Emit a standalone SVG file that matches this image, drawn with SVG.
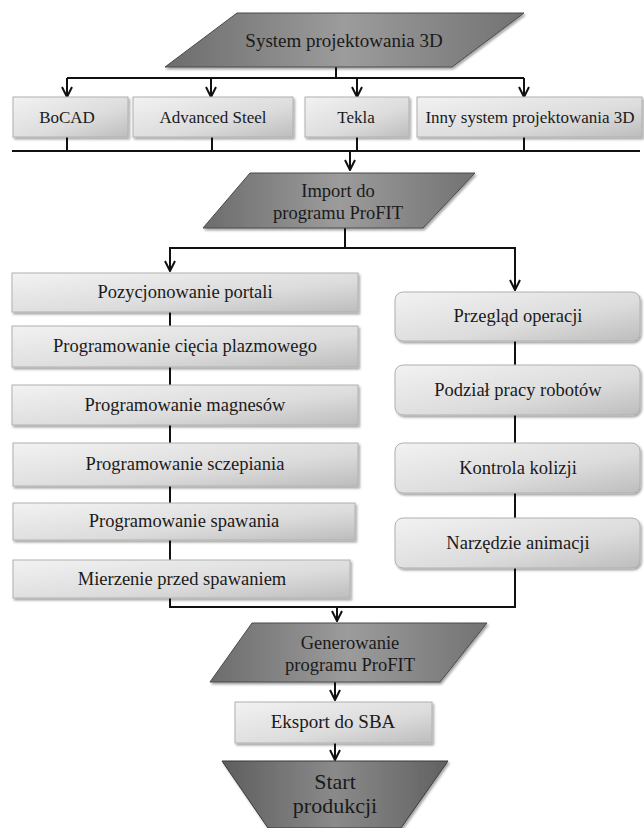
<svg xmlns="http://www.w3.org/2000/svg" width="644" height="828" viewBox="0 0 644 828">
<defs>
<linearGradient id="gBox" x1="0" y1="0" x2="1" y2="1">
<stop offset="0" stop-color="#f2f2f2"/>
<stop offset="0.6" stop-color="#dcdcdc"/>
<stop offset="1" stop-color="#bdbdbd"/>
</linearGradient>
<linearGradient id="gPar" x1="0" y1="0" x2="1" y2="0">
<stop offset="0" stop-color="#6c6c6c"/>
<stop offset="0.5" stop-color="#9c9c9c"/>
<stop offset="1" stop-color="#727272"/>
</linearGradient>
<linearGradient id="gDark" x1="0" y1="0" x2="1" y2="0">
<stop offset="0" stop-color="#5e5e5e"/>
<stop offset="0.5" stop-color="#8a8a8a"/>
<stop offset="1" stop-color="#616161"/>
</linearGradient>
<filter id="sh" x="-5%" y="-10%" width="115%" height="140%">
<feDropShadow dx="1.5" dy="2" stdDeviation="1.2" flood-color="#000" flood-opacity="0.35"/>
</filter>
<marker id="arr" viewBox="0 0 12 12" refX="11" refY="6" markerWidth="12" markerHeight="12" markerUnits="userSpaceOnUse" orient="auto">
<path d="M1,1 L11,6 L1,11" fill="none" stroke="#111" stroke-width="2"/>
</marker>
</defs>
<style>
.box{fill:url(#gBox);stroke:#b0b0b0;stroke-width:1;filter:url(#sh)}
.par{fill:url(#gPar);stroke:#4a4a4a;stroke-width:1;filter:url(#sh)}
.dark{fill:url(#gDark);stroke:#3a3a3a;stroke-width:1;filter:url(#sh)}
.t{font-family:"Liberation Serif","Times New Roman",serif;fill:#1a1a1a;text-anchor:middle}
.s17{font-size:17px}
.s18{font-size:18.5px}
.s19{font-size:19px}
.s22{font-size:22px}
.c{fill:none;stroke:#111;stroke-width:2}
.ca{fill:none;stroke:#111;stroke-width:2;marker-end:url(#arr)}
</style>
<rect width="644" height="828" fill="#ffffff"/>

<g id="connectors">
<path class="c" d="M336,67 V78 M67,78 H524"/>
<path class="ca" d="M67,78 V97"/>
<path class="ca" d="M211,78 V97"/>
<path class="ca" d="M357,78 V97"/>
<path class="ca" d="M524,78 V97"/>
<path class="c" d="M67,137 V151 M212,137 V151 M357,137 V151 M524,137 V151 M12,151 H640"/>
<path class="ca" d="M350,151 V170"/>
<path class="c" d="M345,228 V248 M169,248 H516"/>
<path class="ca" d="M170,248 V271"/>
<path class="ca" d="M515,248 V290"/>
<path class="c" d="M170,312 V326 M170,367 V385 M170,425 V443 M170,486 V503 M170,540 V560"/>
<path class="c" d="M515,341 V365 M515,415 V443 M515,493 V518"/>
<path class="c" d="M170,598 V607 H515 V568"/>
<path class="ca" d="M337,607 V621"/>
<path class="ca" d="M335,682 V700"/>
<path class="ca" d="M335,743 V760"/>
</g>

<g id="n-system">
<polygon class="par" points="237,13 524,13 452,67 165,67"/>
<text class="t s19" x="344" y="47">System projektowania 3D</text>
</g>
<g id="n-bocad">
<rect class="box" x="13" y="97" width="115" height="40"/>
<text class="t s17" x="67" y="123">BoCAD</text>
</g>
<g id="n-advanced">
<rect class="box" x="133" y="97" width="160" height="40"/>
<text class="t s17" x="213" y="123">Advanced Steel</text>
</g>
<g id="n-tekla">
<rect class="box" x="305" y="97" width="104" height="40"/>
<text class="t s17" x="356" y="123">Tekla</text>
</g>
<g id="n-inny">
<rect class="box" x="417" y="97" width="225" height="40"/>
<text class="t s17" x="530" y="123">Inny system projektowania 3D</text>
</g>
<g id="n-import">
<polygon class="par" points="250,173 475,173 423,228 203,228"/>
<text class="t s18" x="338" y="197">Import do</text>
<text class="t s18" x="338" y="219">programu ProFIT</text>
</g>

<g id="n-pozycjonowanie">
<rect class="box" x="12" y="273" width="346" height="39"/>
<text class="t s18" x="185" y="298">Pozycjonowanie portali</text>
</g>
<g id="n-plazma">
<rect class="box" x="12" y="326" width="346" height="41"/>
<text class="t s18" x="185" y="352">Programowanie cięcia plazmowego</text>
</g>
<g id="n-magnesy">
<rect class="box" x="12" y="385" width="346" height="40"/>
<text class="t s18" x="185" y="411">Programowanie magnesów</text>
</g>
<g id="n-sczepianie">
<rect class="box" x="13" y="443" width="345" height="43"/>
<text class="t s18" x="185" y="470">Programowanie sczepiania</text>
</g>
<g id="n-spawanie">
<rect class="box" x="13" y="503" width="342" height="37"/>
<text class="t s18" x="184" y="527">Programowanie spawania</text>
</g>
<g id="n-mierzenie">
<rect class="box" x="13" y="560" width="337" height="38"/>
<text class="t s18" x="182" y="585">Mierzenie przed spawaniem</text>
</g>

<g id="n-przeglad">
<rect class="box" x="395" y="292" width="245" height="49" rx="8"/>
<text class="t s18" x="518" y="322">Przegląd operacji</text>
</g>
<g id="n-podzial">
<rect class="box" x="395" y="365" width="245" height="50" rx="8"/>
<text class="t s18" x="518" y="396">Podział pracy robotów</text>
</g>
<g id="n-kontrola">
<rect class="box" x="395" y="443" width="245" height="50" rx="8"/>
<text class="t s18" x="518" y="474">Kontrola kolizji</text>
</g>
<g id="n-narzedzie">
<rect class="box" x="395" y="518" width="245" height="50" rx="8"/>
<text class="t s18" x="518" y="549">Narzędzie animacji</text>
</g>

<g id="n-generowanie">
<polygon class="par" points="252,623 487,623 440,682 210,682"/>
<text class="t s18" x="350" y="649">Generowanie</text>
<text class="t s18" x="350" y="671">programu ProFIT</text>
</g>
<g id="n-eksport">
<rect class="box" x="235" y="702" width="197" height="41"/>
<text class="t s19" x="333" y="728">Eksport do SBA</text>
</g>
<g id="n-start">
<polygon class="dark" points="222,761 448,761 401,828 268,828"/>
<text class="t s22" x="335" y="789">Start</text>
<text class="t s22" x="335" y="813">produkcji</text>
</g>
</svg>
